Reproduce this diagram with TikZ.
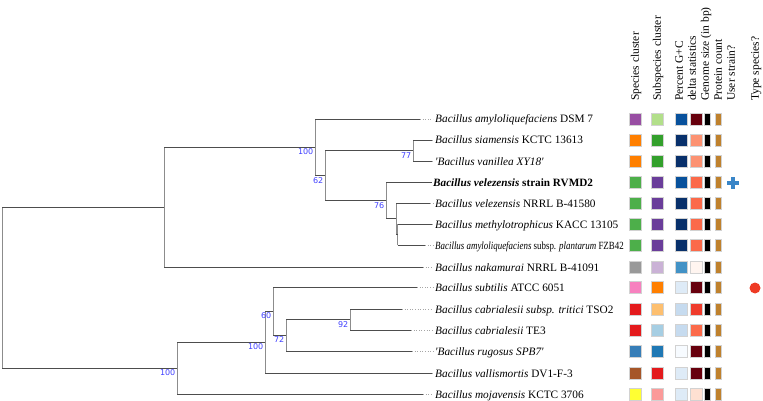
\documentclass[tikz,border=0pt]{standalone}
\usepackage{fontspec}
\setmainfont{Liberation Serif}
\newfontfamily\bsfont{DejaVu Sans}
\usetikzlibrary{calc}
\definecolor{hlc}{HTML}{4D4D4D}
\definecolor{vlc}{HTML}{8C8C8C}
\definecolor{bootc}{HTML}{4040FF}
\definecolor{cPurple}{HTML}{984EA3}
\definecolor{cLGreen}{HTML}{B2DF8A}
\definecolor{cOrange}{HTML}{FF7F00}
\definecolor{cGreen}{HTML}{33A02C}
\definecolor{cGreenB}{HTML}{4DAF4A}
\definecolor{cPurpleB}{HTML}{6A3D9A}
\definecolor{cGray}{HTML}{999999}
\definecolor{cLPurple}{HTML}{CAB2D6}
\definecolor{cPink}{HTML}{F781BF}
\definecolor{cRed}{HTML}{E41A1C}
\definecolor{cLOrange}{HTML}{FDBF6F}
\definecolor{cLBlue}{HTML}{A6CEE3}
\definecolor{cBlueA}{HTML}{377EB8}
\definecolor{cBlueB}{HTML}{1F78B4}
\definecolor{cBrown}{HTML}{A65628}
\definecolor{cRedB}{HTML}{E31A1C}
\definecolor{cYellow}{HTML}{FFFF33}
\definecolor{cLPink}{HTML}{FB9A99}
\definecolor{gBlue}{HTML}{08519C}
\definecolor{gNavy}{HTML}{08306B}
\definecolor{gMid}{HTML}{4292C6}
\definecolor{gPale}{HTML}{DEEBF7}
\definecolor{gPaleB}{HTML}{C6DBEF}
\definecolor{gWhite}{HTML}{F7FBFF}
\definecolor{dDark}{HTML}{67000D}
\definecolor{dSalmon}{HTML}{FC9272}
\definecolor{dRed}{HTML}{FB6A4A}
\definecolor{dRedB}{HTML}{EF3B2C}
\definecolor{dPale}{HTML}{FFF5F0}
\definecolor{dPaleB}{HTML}{FEE0D2}
\definecolor{protc}{HTML}{BF812D}
\definecolor{plusc}{HTML}{3A86C8}
\definecolor{dotc}{HTML}{EE3A24}
\newcommand{\sq}{\textquotesingle}
\tikzset{
  hl/.style={draw=hlc, line width=0.9pt},
  vl/.style={draw=vlc, line width=0.9pt},
  dt/.style={draw=gray!70, dotted, line width=0.6pt},
  lab/.style={anchor=base west, inner sep=0pt, font=\fontsize{11.3}{13}\selectfont},
  hdr/.style={anchor=base west, rotate=90, inner sep=0pt, font=\fontsize{11.5}{13}\selectfont},
  boot/.style={anchor=north east, inner sep=0pt, text=bootc, font=\bsfont\fontsize{8}{9}\selectfont},
  sqbox/.style={draw=gray!35, line width=0.4pt, minimum width=12pt, minimum height=12pt, inner sep=0pt},
  bar/.style={draw=gray!35, line width=0.4pt, minimum width=6pt, minimum height=12pt, inner sep=0pt},
}
\begin{document}
\begin{tikzpicture}[x=1pt,y=-1pt]
\useasboundingbox (0,0) rectangle (763,401);
% solid tip ends
\coordinate (s1) at (420,119);
\coordinate (s2) at (432,140);
\coordinate (s3) at (432,161);
\coordinate (s4) at (432,182);
\coordinate (s5) at (430,203);
\coordinate (s6) at (432,224);
\coordinate (s7) at (425,245);
\coordinate (s8) at (423,267);
\coordinate (s9) at (417,287);
\coordinate (s10) at (402,309);
\coordinate (s11) at (411,330);
\coordinate (s12) at (412,351);
\coordinate (s13) at (432,373);
\coordinate (s14) at (423,394);
% internal nodes
\coordinate (n77) at (413,150.5);
\coordinate (nN2) at (397.5,234.5);
\coordinate (nN1) at (396,218.75);
\coordinate (n76) at (386,200.4);
\coordinate (n62) at (325,175.4);
\coordinate (nA) at (315,147.2);
\coordinate (nT) at (164,207.1);
\coordinate (n92) at (350,319.5);
\coordinate (n72) at (286,335.25);
\coordinate (n60) at (273,311.1);
\coordinate (nB2) at (265,342);
\coordinate (nB) at (177,368);
\coordinate (root) at (2,287.5);
% tree: vertical parts
\draw[vl] (root |- nT) -- (root |- nB);
\draw[vl] (nT |- nA) -- (nT |- s8);
\draw[vl] (nA |- s1) -- (nA |- n62);
\draw[vl] (n62 |- n77) -- (n62 |- n76);
\draw[vl] (n77 |- s2) -- (n77 |- s3);
\draw[vl] (n76 |- s4) -- (n76 |- nN1);
\draw[vl] (nN1 |- s5) -- (nN1 |- nN2);
\draw[vl] (nN2 |- s6) -- (nN2 |- s7);
\draw[vl] (nB |- nB2) -- (nB |- s14);
\draw[vl] (nB2 |- n60) -- (nB2 |- s13);
\draw[vl] (n60 |- s9) -- (n60 |- n72);
\draw[vl] (n72 |- n92) -- (n72 |- s12);
\draw[vl] (n92 |- s10) -- (n92 |- s11);
% tree: horizontal parts
\draw[hl] (root |- nT) -- (nT);
\draw[hl] (root |- nB) -- (nB);
\draw[hl] (nT |- nA) -- (nA);
\draw[hl] (nT |- s8) -- (s8);
\draw[hl] (nA |- s1) -- (s1);
\draw[hl] (nA |- n62) -- (n62);
\draw[hl] (n62 |- n77) -- (n77);
\draw[hl] (n62 |- n76) -- (n76);
\draw[hl] (n77 |- s2) -- (s2);
\draw[hl] (n77 |- s3) -- (s3);
\draw[hl] (n76 |- s4) -- (s4);
\draw[hl] (n76 |- nN1) -- (nN1);
\draw[hl] (nN1 |- s5) -- (s5);
\draw[hl] (nN1 |- nN2) -- (nN2);
\draw[hl] (nN2 |- s6) -- (s6);
\draw[hl] (nN2 |- s7) -- (s7);
\draw[hl] (nB |- nB2) -- (nB2);
\draw[hl] (nB |- s14) -- (s14);
\draw[hl] (nB2 |- n60) -- (n60);
\draw[hl] (nB2 |- s13) -- (s13);
\draw[hl] (n60 |- s9) -- (s9);
\draw[hl] (n60 |- n72) -- (n72);
\draw[hl] (n72 |- n92) -- (n92);
\draw[hl] (n72 |- s12) -- (s12);
\draw[hl] (n92 |- s10) -- (s10);
\draw[hl] (n92 |- s11) -- (s11);
% bootstrap values
\node[boot] (b1) at ([shift={(-1.5,1.5)}]nA) {100};
\node[boot] (b2) at ([shift={(-1.5,1.5)}]n62) {62};
\node[boot] (b3) at ([shift={(-1.5,1.5)}]n77) {77};
\node[boot] (b4) at ([shift={(-1.5,1.5)}]n76) {76};
\node[boot] (b5) at ([shift={(-1.5,1.5)}]n60) {60};
\node[boot] (b6) at ([shift={(-1.5,1.5)}]n72) {72};
\node[boot] (b7) at ([shift={(-1.5,1.5)}]n92) {92};
\node[boot] (b8) at ([shift={(-1.5,1.5)}]nB2) {100};
\node[boot] (b9) at ([shift={(-1.5,1.5)}]nB) {100};
% labels
\node[lab] (l1) at (435,123) {\textit{Bacillus amyloliquefaciens} DSM 7};
\node[lab] (l2) at (435,144) {\textit{Bacillus siamensis} KCTC 13613};
\node[lab] (l3) at (435,165) {\textit{\sq Bacillus vanillea XY18\sq}};
\node[lab, font=\fontsize{11.2}{13}\selectfont] (l4) at (433,186) {\textbf{\textit{Bacillus velezensis} strain RVMD2}};
\node[lab] (l5) at (435,207) {\textit{Bacillus velezensis} NRRL B-41580};
\node[lab] (l6) at (435,228) {\textit{Bacillus methylotrophicus} KACC 13105};
\node[lab, font=\fontsize{11}{13}\selectfont] (l7) at (435,249) {\scalebox{0.81}[1]{\textit{Bacillus amyloliquefaciens} subsp. \textit{plantarum} FZB42}};
\node[lab] (l8) at (435,271) {\textit{Bacillus nakamurai} NRRL B-41091};
\node[lab] (l9) at (435,291) {\textit{Bacillus subtilis} ATCC 6051};
\node[lab] (l10) at (435,313) {\textit{Bacillus cabrialesii subsp. tritici} TSO2};
\node[lab] (l11) at (435,334) {\textit{Bacillus cabrialesii} TE3};
\node[lab] (l12) at (435,355) {\textit{\sq Bacillus rugosus SPB7\sq}};
\node[lab] (l13) at (435,377) {\textit{Bacillus vallismortis} DV1-F-3};
\node[lab] (l14) at (435,398) {\textit{Bacillus mojavensis} KCTC 3706};
% dotted extensions
\foreach \i in {1,2,3,5,6,7,8,9,10,11,12,13,14}{
  \draw[dt] (s\i) -- ([xshift=-2pt]l\i.west |- s\i);
}
% headers
\node[hdr] (h1) at (638.8,101) {Species cluster};
\node[hdr] (h2) at (660.8,101) {Subspecies cluster};
\node[hdr] (h3) at (682.8,101) {Percent G+C};
\node[hdr] (h4) at (695.8,101) {delta statistics};
\node[hdr] (h5) at (708.8,101) {Genome size (in bp)};
\node[hdr] (h6) at (721.8,101) {Protein count};
\node[hdr] (h7) at (734.8,101) {User strain?};
\node[hdr] (h8) at (758.8,101) {Type species?};
% squares
\foreach \y/\a/\b/\c/\d [count=\r] in {
  119/cPurple/cLGreen/gBlue/dDark,
  140/cOrange/cGreen/gNavy/dSalmon,
  161/cOrange/cGreen/gNavy/dSalmon,
  182/cGreenB/cPurpleB/gBlue/dRed,
  203/cGreenB/cPurpleB/gNavy/dRed,
  224/cGreenB/cPurpleB/gNavy/dRed,
  245/cGreenB/cPurpleB/gNavy/dRed,
  267/cGray/cLPurple/gMid/dPale,
  287/cPink/cOrange/gPale/dDark,
  309/cRed/cLOrange/gPaleB/dRedB,
  330/cRed/cLBlue/gPaleB/dRed,
  351/cBlueA/cBlueB/gWhite/dDark,
  373/cBrown/cRedB/gPale/dDark,
  394/cYellow/cLPink/gPale/dPaleB}{
  \node[sqbox, fill=\a] (sp\r) at (635,\y) {};
  \node[sqbox, fill=\b] (ss\r) at (657.5,\y) {};
  \node[sqbox, fill=\c] (gc\r) at (681,\y) {};
  \node[sqbox, fill=\d] (dl\r) at (696,\y) {};
  \node[bar, fill=black] (gs\r) at (707,\y) {};
  \node[bar, fill=protc] (pc\r) at (718,\y) {};
}
% user strain marker
\node[inner sep=0pt, minimum size=12pt] (us) at (733,183) {};
\fill[plusc] ([shift={(-6,-2)}]us.center) rectangle ([shift={(6,2)}]us.center);
\fill[plusc] ([shift={(-2,-6)}]us.center) rectangle ([shift={(2,6)}]us.center);
% type species marker
\node[circle, fill=dotc, minimum size=11pt, inner sep=0pt] (ts) at (755,288) {};
\end{tikzpicture}
\end{document}
